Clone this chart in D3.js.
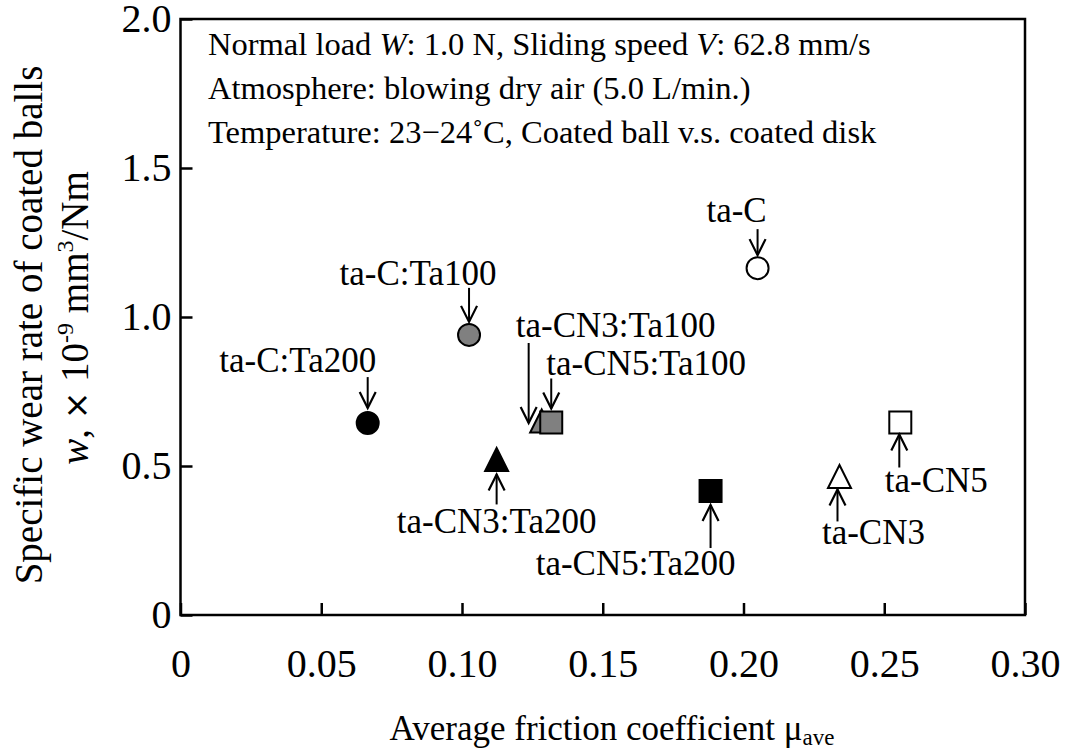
<!DOCTYPE html>
<html lang="en">
<head>
  <meta charset="UTF-8" />
  <title>Specific wear rate vs friction coefficient</title>
  <script src="https://d3js.org/d3.v7.min.js"></script>
  <style>
    body { margin: 0; background: #fff; }
    svg { display: block; font-family: "Liberation Serif", "Times New Roman", serif; }
    .axis path, .axis line { stroke: #000; stroke-width: 2.5; }
    .axis text { font-family: "Liberation Serif", "Times New Roman", serif; font-size: 40px; fill: #000; }
  </style>
</head>
<body>
  <svg width="1068" height="751"></svg>

  <script>
    // data
    const labels = ["ta-C", "ta-C:Ta100", "ta-C:Ta200", "ta-CN3:Ta100", "ta-CN5:Ta100",
                    "ta-CN3:Ta200", "ta-CN5:Ta200", "ta-CN3", "ta-CN5"];
    const friction = [0.205, 0.1025, 0.0665, 0.1283, 0.1317, 0.1123, 0.1883, 0.2341, 0.2557];
    const wearRate = [1.164, 0.940, 0.644, 0.651, 0.646, 0.522, 0.416, 0.465, 0.646];
    const shapes = ["circle", "circle", "circle", "triangle", "square", "triangle", "square", "triangle", "square"];
    const fills = ["#fff", "#808080", "#000", "#808080", "#808080", "#000", "#000", "#fff", "#fff"];

    const xTicks = [0, 0.05, 0.10, 0.15, 0.20, 0.25, 0.30];
    const xTickLabels = ["0", "0.05", "0.10", "0.15", "0.20", "0.25", "0.30"];
    const yTicks = [0, 0.5, 1.0, 1.5, 2.0];
    const yTickLabels = ["0", "0.5", "1.0", "1.5", "2.0"];

    const conditions = [
      [["Normal load "], ["W", "italic"], [": 1.0 N, Sliding speed "], ["V", "italic"], [": 62.8 mm/s"]],
      [["Atmosphere: blowing dry air (5.0 L/min.)"]],
      [["Temperature: 23\u221224\u02DAC, Coated ball v.s. coated disk"]]
    ];

    // label / arrow placement, offsets in px from each point
    const notes = [
      { tx: -21, ty: -46, ax: 0, a0: -39, a1: -13 },
      { tx: -51, ty: -50, ax: 0, a0: -47, a1: -13 },
      { tx: -70, ty: -51, ax: 0, a0: -46, a1: -15 },
      { tx: 74, ty: -84, ax: -13, a0: -78, a1: 2 },
      { tx: 95, ty: -47, ax: 0, a0: -44, a1: -14 },
      { tx: 0, ty: 74, ax: 0, a0: 45, a1: 15 },
      { tx: -75, ty: 84, ax: 0, a0: 57, a1: 14 },
      { tx: 34, ty: 68, ax: -2, a0: 45, a1: 13 },
      { tx: 36, ty: 70, ax: -1, a0: 45, a1: 12 }
    ];

    const svg = d3.select("svg");
    const plot = { left: 180.5, right: 1025, top: 19, bottom: 615 };

    const x = d3.scaleLinear().domain([0, 0.30]).range([plot.left, plot.right]);
    const y = d3.scaleLinear().domain([0, 2.0]).range([plot.bottom, plot.top]);

    // frame
    svg.append("rect")
      .attr("x", plot.left).attr("y", plot.top)
      .attr("width", plot.right - plot.left).attr("height", plot.bottom - plot.top)
      .attr("fill", "none").attr("stroke", "#000").attr("stroke-width", 2.5);

    // axes with inward ticks
    svg.append("g")
      .attr("class", "axis")
      .attr("transform", `translate(0,${plot.bottom})`)
      .call(d3.axisBottom(x).tickValues(xTicks)
        .tickFormat((d, i) => xTickLabels[i])
        .tickSizeInner(-12).tickSizeOuter(0).tickPadding(34))
      .call(g => g.select(".domain").remove());

    svg.append("g")
      .attr("class", "axis")
      .attr("transform", `translate(${plot.left},0)`)
      .call(d3.axisLeft(y).tickValues(yTicks)
        .tickFormat((d, i) => yTickLabels[i])
        .tickSizeInner(-12).tickSizeOuter(0).tickPadding(9))
      .call(g => g.select(".domain").remove());

    // condition text
    conditions.forEach((line, i) => {
      const t = svg.append("text")
        .attr("x", 208).attr("y", 55 + i * 44)
        .attr("font-size", 32.5);
      line.forEach(([s, style]) => {
        t.append("tspan").attr("font-style", style || null).text(s);
      });
    });

    // markers
    const pts = labels.map((l, i) => ({ label: l, x: x(friction[i]), y: y(wearRate[i]), shape: shapes[i], fill: fills[i], n: notes[i] }));

    function markerPath(shape) {
      if (shape === "square") return "M-11,-11H11V11H-11Z";
      if (shape === "triangle") return "M0,-11.5L11.5,11.5H-11.5Z";
      return null;
    }

    pts.forEach(p => {
      if (p.shape === "circle") {
        svg.append("circle").attr("cx", p.x).attr("cy", p.y).attr("r", 11)
          .attr("fill", p.fill).attr("stroke", "#000").attr("stroke-width", 2);
      } else {
        svg.append("path").attr("d", markerPath(p.shape))
          .attr("transform", `translate(${p.x},${p.y})`)
          .attr("fill", p.fill).attr("stroke", "#000").attr("stroke-width", 2)
          .attr("stroke-linejoin", "miter");
      }
    });

    // arrows and labels
    pts.forEach(p => {
      const ax = p.x + p.n.ax;
      const y0 = p.y + p.n.a0, y1 = p.y + p.n.a1;
      const dir = y1 > y0 ? 1 : -1;
      svg.append("line")
        .attr("x1", ax).attr("x2", ax).attr("y1", y0).attr("y2", y1)
        .attr("stroke", "#000").attr("stroke-width", 2);
      svg.append("path")
        .attr("d", `M${ax - 8},${y1 - dir * 16}L${ax},${y1}L${ax + 8},${y1 - dir * 16}`)
        .attr("fill", "none").attr("stroke", "#000").attr("stroke-width", 2.2);
      svg.append("text")
        .attr("x", p.x + p.n.tx).attr("y", p.y + p.n.ty)
        .attr("text-anchor", "middle").attr("font-size", 35)
        .text(p.label);
    });

    // axis titles
    const xt = svg.append("text")
      .attr("x", 612).attr("y", 740)
      .attr("text-anchor", "middle").attr("font-size", 35);
    xt.append("tspan").text("Average friction coefficient \u03BC");
    xt.append("tspan").attr("font-size", 23).attr("dy", 5).text("ave");

    svg.append("text")
      .attr("transform", "translate(42,325) rotate(-90)")
      .attr("text-anchor", "middle").attr("font-size", 39)
      .text("Specific wear rate of coated balls");

    const yt = svg.append("text")
      .attr("transform", "translate(88,318) rotate(-90)")
      .attr("text-anchor", "middle").attr("font-size", 39);
    yt.append("tspan").attr("font-style", "italic").text("w");
    yt.append("tspan").text(", ");
    yt.append("tspan").attr("font-family", "'DejaVu Sans', sans-serif").attr("font-size", 33).text("\u00D7");
    yt.append("tspan").text(" 10");
    yt.append("tspan").attr("font-size", 24).attr("dy", -15).text("-9");
    yt.append("tspan").attr("dy", 15).text(" mm");
    yt.append("tspan").attr("font-size", 24).attr("dy", -15).text("3");
    yt.append("tspan").attr("dy", 15).text("/Nm");
  </script>
</body>
</html>
